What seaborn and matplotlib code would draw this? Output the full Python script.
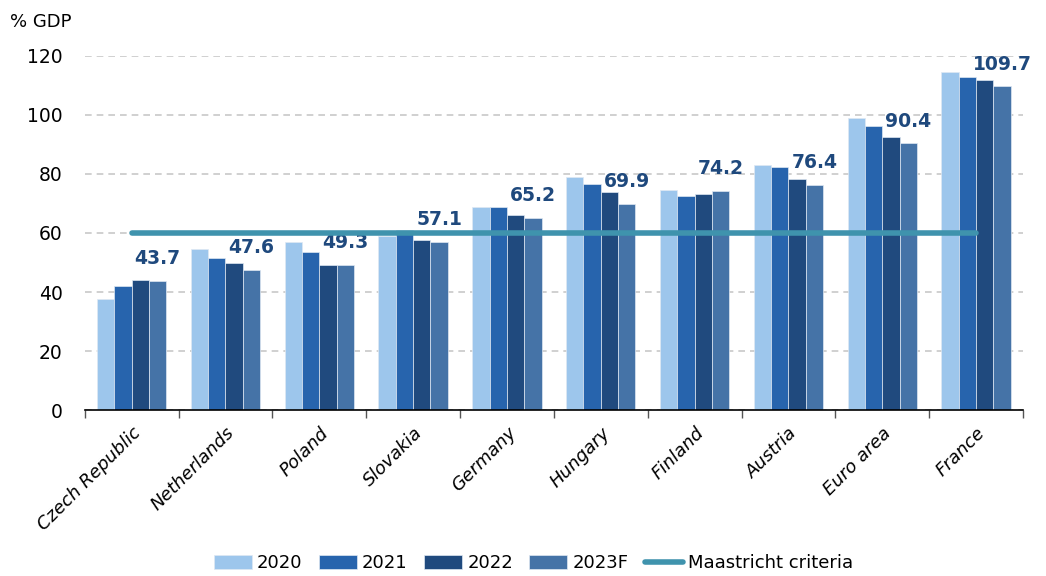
import matplotlib
matplotlib.use("Agg")
import matplotlib.pyplot as plt
import seaborn as sns
import pandas as pd

countries = ["Czech Republic", "Netherlands", "Poland", "Slovakia", "Germany",
             "Hungary", "Finland", "Austria", "Euro area", "France"]
years = ["2020", "2021", "2022", "2023F"]
debt_2020 = [37.6, 54.6, 57.0, 59.0, 68.8, 79.1, 74.6, 82.9, 99.0, 114.5]
debt_2021 = [42.0, 51.5, 53.6, 61.0, 68.9, 76.6, 72.5, 82.4, 96.4, 112.9]
debt_2022 = [44.1, 49.8, 49.2, 57.6, 66.0, 73.8, 73.2, 78.3, 92.4, 111.8]
debt_2023 = [43.7, 47.6, 49.3, 57.1, 65.2, 69.9, 74.2, 76.4, 90.4, 109.7]
maastricht = [60] * len(countries)

COLORS = ["#9dc6ec", "#2764ad", "#204a7e", "#4573a7"]
LINE_COLOR = "#3f93ad"
LABEL_COLOR = "#1f497d"

rows = []
for year, vals in zip(years, [debt_2020, debt_2021, debt_2022, debt_2023]):
    for c, v in zip(countries, vals):
        rows.append({"country": c, "year": year, "debt": v})
df = pd.DataFrame(rows)

sns.set_theme(style="white")
plt.rcParams["font.family"] = ["DejaVu Sans"]
plt.rcParams["text.color"] = "black"
plt.rcParams["xtick.color"] = "black"
plt.rcParams["ytick.color"] = "black"

fig = plt.figure(figsize=(10.46, 5.76), dpi=100)
ax = fig.add_axes([0.081, 0.288, 0.897, 0.615])

sns.barplot(data=df, x="country", y="debt", hue="year", order=countries,
            hue_order=years, palette=COLORS, width=0.74, ax=ax,
            edgecolor="#dfe8f3", linewidth=0.5, saturation=1)

ax.plot(range(len(countries)), maastricht, color=LINE_COLOR, lw=4,
        solid_capstyle="round", label="Maastricht criteria", zorder=4)

# value labels above the 2023F bars
for bar, v in zip(ax.containers[3], debt_2023):
    ax.annotate(f"{v:.1f}", (bar.get_x() + bar.get_width() / 2, bar.get_height()),
                xytext=(0, 16), textcoords="offset points", ha="center", va="center",
                fontsize=13.5, fontweight="bold", color=LABEL_COLOR, clip_on=False)

ax.set_ylim(0, 120)
ax.set_xlim(-0.5, len(countries) - 0.5)
ax.set_yticks(range(0, 121, 20))
ax.yaxis.grid(True, linestyle=(0, (4, 3)), color="#c8c8c8", lw=1.2)
ax.set_axisbelow(True)
for s in ["left", "right", "top"]:
    ax.spines[s].set_visible(False)
ax.spines["bottom"].set_color("black")
ax.spines["bottom"].set_linewidth(1.2)

ax.set_xticks(range(len(countries)))
ax.set_xticklabels(countries, rotation=45, ha="right", rotation_mode="anchor",
                   fontsize=13, fontstyle="italic")
ax.set_xticks([i - 0.5 for i in range(len(countries) + 1)], minor=True)
ax.tick_params(axis="x", which="major", length=0, pad=10)
ax.tick_params(axis="x", which="minor", length=6, width=1, color="#555555",
               direction="out", bottom=True)
ax.tick_params(axis="y", length=0, labelsize=13.5, pad=16)
ax.set_xlabel("")
ax.set_ylabel("")

fig.text(0.01, 0.962, "% GDP", fontsize=13, ha="left", va="center")

handles, labels = ax.get_legend_handles_labels()
ax.get_legend().remove()
fig.legend(handles, labels, loc="center", bbox_to_anchor=(0.51, 0.022), ncol=5,
           frameon=False, fontsize=13, handlelength=2.1, handleheight=0.8,
           columnspacing=0.9, handletextpad=0.3)

fig.savefig("out.png", dpi=100)
